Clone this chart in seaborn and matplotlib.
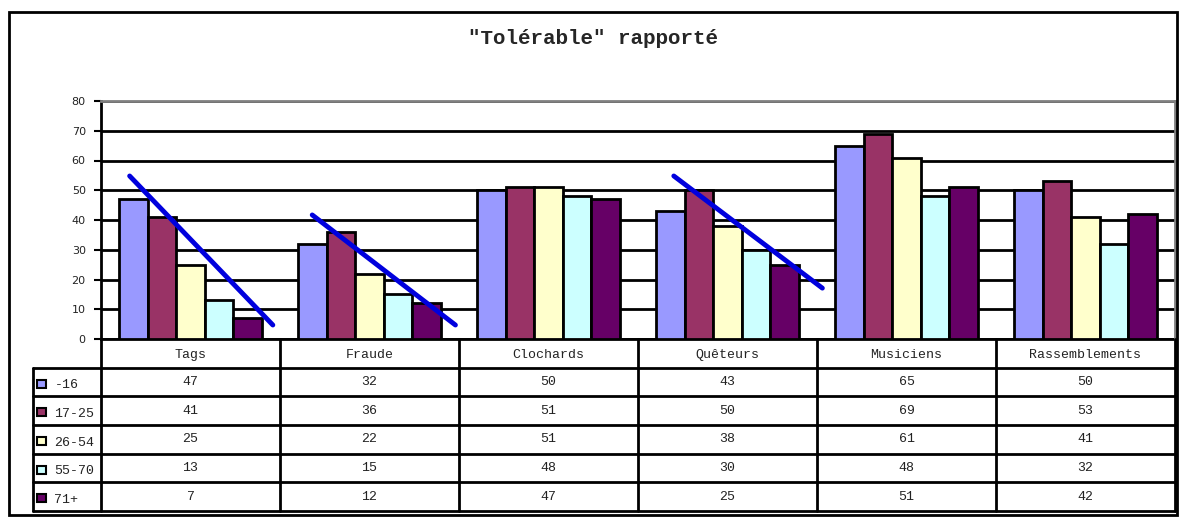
import matplotlib
matplotlib.use("Agg")
import matplotlib.pyplot as plt
import seaborn as sns
import pandas as pd
from matplotlib.patches import Rectangle

# ---- data ----
categories = ["Tags", "Fraude", "Clochards", "Quêteurs", "Musiciens", "Rassemblements"]
groups = ["-16", "17-25", "26-54", "55-70", "71+"]
v_m16 = [47, 32, 50, 43, 65, 50]
v_17_25 = [41, 36, 51, 50, 69, 53]
v_26_54 = [25, 22, 51, 38, 61, 41]
v_55_70 = [13, 15, 48, 30, 48, 32]
v_71p = [7, 12, 47, 25, 51, 42]
series = [v_m16, v_17_25, v_26_54, v_55_70, v_71p]
colors = ["#9999FF", "#993366", "#FFFFCC", "#CCFFFF", "#660066"]
title = '"Tolérable" rapporté'
yticks = [0, 10, 20, 30, 40, 50, 60, 70, 80]
# hand-drawn trend strokes (x in category units, y in data units)
trend_x = [[-0.34, 0.46], [0.68, 1.48], [2.70, 3.53]]
trend_y = [[54.8, 4.7], [41.7, 4.7], [54.8, 17.1]]

rows = []
for g, vals in zip(groups, series):
    for c, v in zip(categories, vals):
        rows.append({"cat": c, "grp": g, "val": v})
df = pd.DataFrame(rows)

sns.set_theme(style="white")
plt.rcParams["font.family"] = ["DejaVu Sans"]
W, H = 1185, 530
fig = plt.figure(figsize=(W / 100, H / 100), dpi=100)

def fx(px):
    return px / W

def fy(py):
    return 1 - py / H

L, R, T, B = 101, 1175, 101, 339
ax = fig.add_axes([fx(L), fy(B), fx(R) - fx(L), fy(T) - fy(B)])
sns.barplot(data=df, x="cat", y="val", hue="grp", order=categories, hue_order=groups,
            palette=colors, saturation=1, edgecolor="black", linewidth=2, width=0.8, ax=ax,
            legend=False, zorder=3)
ax.set_xlim(-0.5, 5.5)
ax.set_ylim(0, 80)
ax.set_yticks(yticks)
ax.set_yticklabels([str(t) for t in yticks], fontsize=8, color="#222222")
ax.tick_params(axis="y", which="major", left=True, length=5, width=1.5, color="black", pad=6)
ax.set_xticks([])
ax.set_xlabel("")
ax.set_ylabel("")
ax.yaxis.grid(True, color="black", linewidth=2)
ax.set_axisbelow(True)
for s in ["left", "bottom"]:
    ax.spines[s].set_color("black")
    ax.spines[s].set_linewidth(2)
for s in ["top", "right"]:
    ax.spines[s].set_color("#808080")
    ax.spines[s].set_linewidth(2)
    ax.spines[s].set_zorder(5)

for xs, ys in zip(trend_x, trend_y):
    ax.plot(xs, ys, color="#0000DD", linewidth=3.5, solid_capstyle="round", zorder=6, clip_on=False)

# ---- data table ----
TB = 511
tab = fig.add_axes([fx(L), fy(TB), fx(R) - fx(L), fy(B) - fy(TB)])
tab.set_xlim(-0.5, 5.5)
tab.set_ylim(6, 0)
tab.axis("off")
leg_left = -0.5 - (L - 33) / ((R - L) / 6)
lw = 2
for k in range(7):
    tab.plot([-0.5 + k, -0.5 + k], [0, 6], color="black", lw=lw, clip_on=False)
tab.plot([leg_left, leg_left], [1, 6], color="black", lw=lw, clip_on=False)
for r in range(1, 7):
    tab.plot([leg_left, 5.5], [r, r], color="black", lw=lw, clip_on=False)
mono = "Liberation Mono"
fs = 9.5
for i, c in enumerate(categories):
    tab.text(i, 0.55, c, ha="center", va="center", fontsize=fs, family=mono, color="#222222")
for r, (g, vals, col) in enumerate(zip(groups, series, colors)):
    yc = r + 1.5
    for i, v in enumerate(vals):
        tab.text(i, yc, str(v), ha="center", va="center", fontsize=fs, family=mono, color="#222222")
    tab.add_patch(Rectangle((leg_left + 0.025, yc - 0.08), 0.045, 0.28, facecolor=col,
                            edgecolor="black", lw=1.5, clip_on=False))
    tab.text(leg_left + 0.12, yc + 0.12, g, ha="left", va="center", fontsize=fs, family=mono, color="#222222")

# title
fig.text(0.5, fy(39), title, ha="center", va="center", fontsize=15, fontweight="bold", family=mono)

# outer frame
fig.patches.append(Rectangle((fx(9), fy(515)), fx(1177) - fx(9), fy(12) - fy(515),
                             transform=fig.transFigure, fill=False, edgecolor="black", lw=2))

fig.savefig("out.png", dpi=100)
